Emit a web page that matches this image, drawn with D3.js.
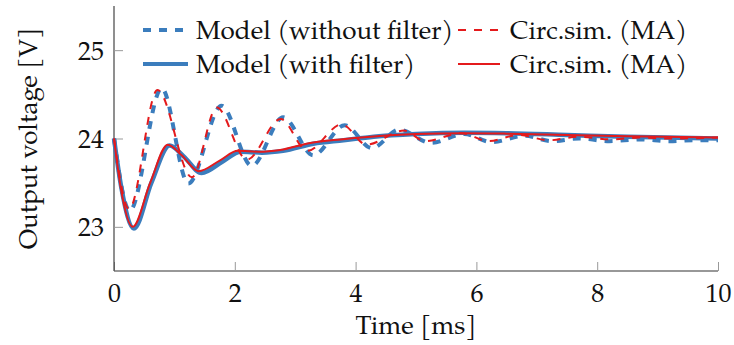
<!DOCTYPE html>
<html>
<head>
<meta charset="utf-8">
<script src="https://cdn.jsdelivr.net/npm/d3@7"></script>
<style>
  html, body { margin: 0; padding: 0; background: #fff; }
  svg { display: block; }
  text { font-family: "TeX Gyre Pagella", "Palatino Linotype", "Book Antiqua", Palatino, "Liberation Serif", "DejaVu Serif", serif; fill: #111; }
</style>
</head>
<body>
<svg id="chart" width="734" height="345"></svg>
<script>
// ---- data ----
const xTicks = [0, 2, 4, 6, 8, 10];
const yTicks = [23, 24, 25];

// Model (without filter) – blue dashed
const modelNoFilterT = [0, 0.26, 0.79, 1.23, 1.78, 2.28, 2.8, 3.3, 3.82, 4.27, 4.72, 5.25, 5.8, 6.25, 6.8, 7.25, 7.7, 8.2, 8.7, 9.2, 9.6, 10];
const modelNoFilterV = [24, 23.18, 24.57, 23.49, 24.37, 23.69, 24.24, 23.81, 24.15, 23.89, 24.10, 23.95, 24.05, 23.96, 24.03, 23.97, 24.0, 23.97, 23.99, 23.97, 23.98, 23.98];

// Model (with filter) – blue solid
const modelFilterT = [0, 0.12, 0.33, 0.62, 0.92, 1.15, 1.45, 1.8, 2.1, 2.45, 2.8, 3.3, 3.8, 4.3, 5.0, 5.8, 6.5, 7.5, 8.5, 10];
const modelFilterV = [24, 23.45, 22.98, 23.5, 23.92, 23.80, 23.61, 23.74, 23.85, 23.84, 23.86, 23.94, 23.98, 24.02, 24.05, 24.065, 24.06, 24.04, 24.02, 24.0];

// Circ.sim. (MA) – red dashed
const simDashT = [0, 0.25, 0.72, 1.29, 1.70, 2.2, 2.76, 3.2, 3.77, 4.18, 4.8, 5.15, 5.75, 6.2, 6.7, 7.2, 7.7, 8.2, 8.7, 9.2, 10];
const simDashV = [24, 23.20, 24.55, 23.56, 24.35, 23.76, 24.22, 23.86, 24.16, 23.93, 24.09, 23.97, 24.06, 23.97, 24.04, 23.98, 24.02, 23.99, 24.01, 24.0, 24.01];

// Circ.sim. (MA) – red solid
const simSolidT = [0, 0.11, 0.31, 0.6, 0.89, 1.12, 1.4, 1.75, 2.05, 2.4, 2.75, 3.25, 3.75, 4.25, 5.0, 5.8, 6.5, 7.5, 8.5, 10];
const simSolidV = [24, 23.45, 23.0, 23.5, 23.93, 23.81, 23.63, 23.75, 23.86, 23.85, 23.87, 23.95, 23.99, 24.02, 24.05, 24.06, 24.055, 24.04, 24.025, 24.01];

const legendLabels = ["Model (without filter)", "Model (with filter)", "Circ.sim. (MA)", "Circ.sim. (MA)"];

// ---- layout ----
const blue = "#3b7dbd", red = "#e41a1c";
const svg = d3.select("#chart");
const m = { left: 114, right: 16, top: 6, bottom: 74 };
const W = 734, H = 345;

const x = d3.scaleLinear().domain([0, 10]).range([m.left, W - m.right]);
const y = d3.scaleLinear().domain([22.5, 25.5]).range([H - m.bottom, m.top]);

const fs = 26;
const ff = '"TeX Gyre Pagella","Palatino Linotype","Book Antiqua",Palatino,"Liberation Serif","DejaVu Serif",serif';

// axes
const xAxis = d3.axisBottom(x).tickValues(xTicks).tickSize(-9).tickPadding(13).tickFormat(d3.format("d"));
const yAxis = d3.axisLeft(y).tickValues(yTicks).tickSize(-9).tickPadding(10).tickFormat(d3.format("d"));

const gx = svg.append("g").attr("transform", `translate(0,${y(22.5)})`).call(xAxis);
const gy = svg.append("g").attr("transform", `translate(${x(0)},0)`).call(yAxis);
[gx, gy].forEach(g => {
  g.select(".domain").attr("stroke", "#333").attr("stroke-width", 1.1);
  g.selectAll(".tick line").attr("stroke", "#999").attr("stroke-width", 1);
  g.selectAll(".tick text").attr("font-size", fs).attr("fill", "#111").style("font-family", ff);
});
gx.select(".domain").attr("d", `M${x(0)},0H${x(10)}`);
gy.select(".domain").attr("d", `M0,${y(22.5)}V${y(25.5)}`);
gy.selectAll(".tick text").attr("dy", "0.35em");

// axis labels
svg.append("text").attr("x", (x(0) + x(10)) / 2).attr("y", 334).attr("text-anchor", "middle")
  .attr("font-size", fs).text("Time [ms]");
svg.append("text").attr("transform", `translate(37,${(y(22.5) + y(25.5)) / 2}) rotate(-90)`)
  .attr("text-anchor", "middle").attr("font-size", fs).text("Output voltage [V]");

// lines
const line = d3.line().x(d => x(d[0])).y(d => y(d[1])).curve(d3.curveMonotoneX);
const zip = (t, v) => t.map((ti, i) => [ti, v[i]]);

const plot = svg.append("g");
plot.append("path").datum(zip(modelFilterT, modelFilterV)).attr("d", line)
  .attr("fill", "none").attr("stroke", blue).attr("stroke-width", 4.5);
plot.append("path").datum(zip(modelNoFilterT, modelNoFilterV)).attr("d", line)
  .attr("fill", "none").attr("stroke", blue).attr("stroke-width", 4).attr("stroke-dasharray", "8,8");
plot.append("path").datum(zip(simDashT, simDashV)).attr("d", line)
  .attr("fill", "none").attr("stroke", red).attr("stroke-width", 2).attr("stroke-dasharray", "8,8");
plot.append("path").datum(zip(simSolidT, simSolidV)).attr("d", line)
  .attr("fill", "none").attr("stroke", red).attr("stroke-width", 2);

// legend
const leg = svg.append("g");
const items = [
  { x0: 143, x1: 188, yy: 30, color: blue, w: 4, dash: "8,8", tx: 196, label: legendLabels[0] },
  { x0: 143, x1: 188, yy: 64, color: blue, w: 4, dash: null, tx: 196, label: legendLabels[1] },
  { x0: 458, x1: 500, yy: 30, color: red, w: 2, dash: "8,8", tx: 510, label: legendLabels[2] },
  { x0: 458, x1: 500, yy: 64, color: red, w: 2, dash: null, tx: 510, label: legendLabels[3] }
];
items.forEach(it => {
  const l = leg.append("line").attr("x1", it.x0).attr("x2", it.x1).attr("y1", it.yy).attr("y2", it.yy)
    .attr("stroke", it.color).attr("stroke-width", it.w);
  if (it.dash) l.attr("stroke-dasharray", it.dash);
  leg.append("text").attr("x", it.tx).attr("y", it.yy).attr("dy", "0.33em").attr("font-size", fs).text(it.label);
});
</script>
</body>
</html>
